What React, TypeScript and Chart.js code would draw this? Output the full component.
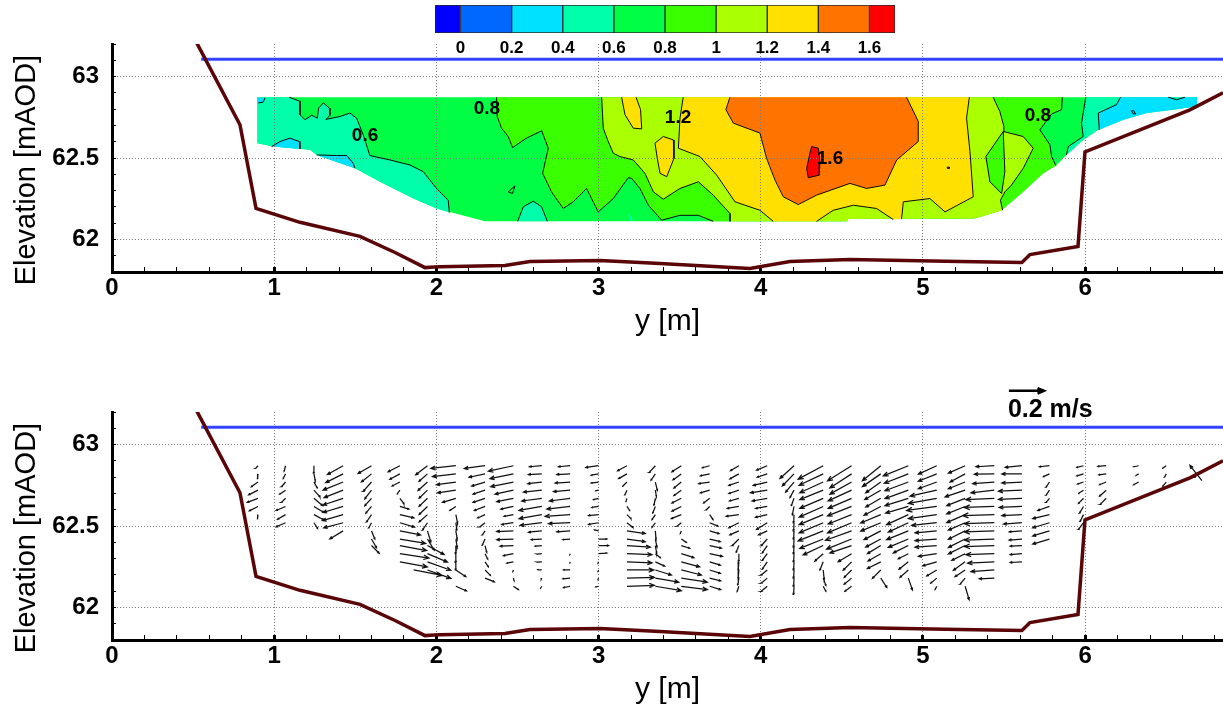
import React, { useEffect, useRef } from "react";
import { Chart, registerables } from "chart.js";

Chart.register(...registerables);

type P = { x: number; y: number };
const pts = (a: number[][]): P[] => a.map(([x, y]) => ({ x, y }));

// ---- axes
const xTicks = [0, 0.2, 0.4, 0.6, 0.8, 1, 1.2, 1.4, 1.6, 1.8, 2, 2.2, 2.4, 2.6, 2.8, 3, 3.2, 3.4, 3.6, 3.8, 4, 4.2, 4.4, 4.6, 4.8, 5, 5.2, 5.4, 5.6, 5.8, 6, 6.2, 6.4, 6.6, 6.8];
const xMajor = [0, 1, 2, 3, 4, 5, 6];
const yTicks = [61.8, 61.9, 62, 62.1, 62.2, 62.3, 62.4, 62.5, 62.6, 62.7, 62.8, 62.9, 63, 63.1, 63.2];
const yMajor = [62, 62.5, 63];

// ---- colour bar
const barLevels = [-0.1, 0, 0.2, 0.4, 0.6, 0.8, 1, 1.2, 1.4, 1.6, 1.7];
const barTicks = [0, 0.2, 0.4, 0.6, 0.8, 1, 1.2, 1.4, 1.6];
const barColors = ["#0000ff", "#0068ff", "#00e1ff", "#00ffaa", "#00ff44", "#39ff00", "#aaff00", "#ffe000", "#ff7300", "#ff0000"];

// ---- channel bed and water surface
const bed = pts([[0.524, 63.204], [0.789, 62.704], [0.888, 62.191], [1.159, 62.105], [1.529, 62.019], [1.745, 61.92], [1.93, 61.827], [2.022, 61.833], [2.423, 61.84], [2.577, 61.864], [3.009, 61.87], [3.379, 61.852], [3.933, 61.821], [4.18, 61.864], [4.55, 61.877], [5.228, 61.864], [5.61, 61.858], [5.66, 61.907], [5.956, 61.957], [5.999, 62.537], [6.646, 62.796], [6.85, 62.9]]);
const water = pts([[0.55, 63.107], [6.85, 63.107]]);

// ---- velocity magnitude contours (outer section = 0.6-0.8 band)
const section = pts([[0.896, 62.873], [0.896, 62.591], [0.995, 62.57], [1.221, 62.55], [1.262, 62.519], [1.498, 62.437], [1.652, 62.354], [1.858, 62.251], [2.001, 62.19], [2.299, 62.111], [4.529, 62.111], [4.54, 62.125], [5.31, 62.128], [5.351, 62.138], [5.485, 62.179], [5.618, 62.292], [5.741, 62.406], [5.824, 62.457], [5.885, 62.519], [5.988, 62.611], [6.081, 62.673], [6.235, 62.735], [6.379, 62.776], [6.584, 62.803], [6.687, 62.817], [6.691, 62.873]]);

const line06 = pts([[1.093, 62.873], [1.159, 62.848], [1.159, 62.766], [1.19, 62.735], [1.231, 62.762], [1.266, 62.745], [1.274, 62.807], [1.303, 62.838], [1.34, 62.807], [1.344, 62.762], [1.319, 62.737], [1.406, 62.755], [1.467, 62.776], [1.508, 62.745], [1.549, 62.642], [1.59, 62.515], [1.714, 62.488], [1.837, 62.457], [1.919, 62.416], [2.001, 62.313], [2.073, 62.241], [2.08, 62.165]]);
const close06 = pts([[2.001, 62.19], [1.858, 62.251], [1.652, 62.354], [1.498, 62.437], [1.262, 62.519], [1.221, 62.55], [0.995, 62.57], [0.896, 62.591], [0.896, 62.873]]);
const islandAqua = pts([[2.501, 62.111], [2.536, 62.2], [2.597, 62.235], [2.649, 62.2], [2.684, 62.111]]);
const dotAqua = pts([[3.183, 62.159], [3.195, 62.145], [3.214, 62.118], [3.19, 62.118]]);
const loopGreen = pts([[2.443, 62.292], [2.484, 62.329], [2.47, 62.282], [2.443, 62.292]]);
const cyanLeft = pts([[0.984, 62.57], [1.036, 62.601], [1.097, 62.622], [1.155, 62.601], [1.159, 62.556]]);
const cyanMid = pts([[1.262, 62.519], [1.385, 62.515], [1.447, 62.515], [1.488, 62.467], [1.498, 62.437]]);
const cyanCorner = pts([[0.943, 62.869], [0.933, 62.844], [0.902, 62.838]]);
const cyanCornerClose = pts([[0.896, 62.838], [0.896, 62.873]]);

const line08Left = pts([[2.371, 62.873], [2.375, 62.755], [2.402, 62.683], [2.443, 62.632], [2.47, 62.564], [2.556, 62.622], [2.649, 62.667], [2.69, 62.56], [2.655, 62.406], [2.71, 62.292], [2.782, 62.19], [2.844, 62.231], [2.926, 62.313], [2.998, 62.169], [3.091, 62.251], [3.183, 62.379], [3.204, 62.375], [3.255, 62.313], [3.307, 62.21], [3.389, 62.118], [3.502, 62.148], [3.615, 62.148], [3.707, 62.111]]);
const line08Right = pts([[5.82, 62.453], [5.793, 62.509], [5.783, 62.581], [5.721, 62.673], [5.793, 62.77], [5.855, 62.797], [5.859, 62.873]]);
const close08 = pts([[4.529, 62.111], [4.54, 62.125], [5.31, 62.128], [5.351, 62.138], [5.485, 62.179], [5.618, 62.292], [5.741, 62.406]]);

const line06Right = pts([[6.004, 62.873], [5.978, 62.714], [5.988, 62.632], [5.896, 62.57], [5.885, 62.519]]);
const closeTail = pts([[5.988, 62.611], [6.081, 62.673], [6.235, 62.735], [6.379, 62.776], [6.584, 62.803], [6.687, 62.817], [6.691, 62.873]]);
const line04Right = pts([[6.218, 62.873], [6.194, 62.828], [6.081, 62.776], [6.087, 62.673]]);
const closeCyanTail = pts([[6.235, 62.735], [6.379, 62.776], [6.584, 62.803], [6.687, 62.817], [6.691, 62.873]]);
const aquaTopRight = pts([[6.512, 62.873], [6.564, 62.858], [6.615, 62.873]]);
const dotDark = pts([[6.285, 62.79], [6.3, 62.79], [6.31, 62.77], [6.295, 62.772], [6.285, 62.79]]);

const line10Left = pts([[3.019, 62.873], [3.029, 62.683], [3.06, 62.6], [3.091, 62.529], [3.132, 62.509], [3.214, 62.488], [3.286, 62.406], [3.338, 62.292], [3.399, 62.247], [3.502, 62.313], [3.615, 62.354], [3.707, 62.272], [3.81, 62.159], [3.81, 62.111]]);
const close10 = pts([[4.529, 62.111], [4.54, 62.125], [5.31, 62.128], [5.351, 62.138], [5.491, 62.179]]);
const line10Right = pts([[5.491, 62.179], [5.478, 62.241], [5.505, 62.292], [5.546, 62.334], [5.618, 62.436], [5.68, 62.56], [5.618, 62.632], [5.495, 62.663], [5.499, 62.694], [5.474, 62.786], [5.433, 62.873]]);
const lensGreen = pts([[5.495, 62.663], [5.388, 62.509], [5.413, 62.354], [5.485, 62.282], [5.505, 62.415], [5.495, 62.663]]);

const line12Left = pts([[3.522, 62.873], [3.502, 62.745], [3.492, 62.56], [3.625, 62.509], [3.728, 62.395], [3.841, 62.231], [3.995, 62.179], [4.077, 62.111]]);
const island10 = pts([[4.344, 62.111], [4.447, 62.179], [4.571, 62.21], [4.714, 62.19], [4.817, 62.122]]);
const line12Right = pts([[4.868, 62.125], [4.879, 62.231], [5.043, 62.251], [5.136, 62.169], [5.31, 62.262], [5.29, 62.539], [5.269, 62.745], [5.286, 62.873]]);
const yellowTop = pts([[3.142, 62.873], [3.163, 62.766], [3.214, 62.683], [3.266, 62.679], [3.259, 62.797], [3.231, 62.873]]);
const yellowMid = pts([[3.348, 62.591], [3.399, 62.632], [3.461, 62.611], [3.465, 62.498], [3.42, 62.385], [3.379, 62.406], [3.362, 62.498], [3.348, 62.591]]);
const dotYellow = pts([[5.15, 62.444], [5.162, 62.444], [5.162, 62.436], [5.15, 62.436], [5.15, 62.444]]);

const line14 = pts([[3.81, 62.873], [3.785, 62.797], [3.831, 62.714], [3.995, 62.653], [4.036, 62.498], [4.088, 62.364], [4.139, 62.262], [4.231, 62.214], [4.344, 62.272], [4.55, 62.344], [4.653, 62.313], [4.766, 62.334], [4.838, 62.488], [4.971, 62.601], [4.971, 62.725], [4.899, 62.873]]);
const line16 = pts([[4.314, 62.57], [4.355, 62.56], [4.365, 62.478], [4.361, 62.395], [4.293, 62.379], [4.283, 62.436], [4.303, 62.529], [4.314, 62.57]]);

const labelTexts = ["0.6", "0.8", "1.2", "1.6", "0.8"];
const labelX = [1.56, 2.312, 3.49, 4.427, 5.709];
const labelY = [62.636, 62.802, 62.747, 62.494, 62.759];

// ---- velocity vectors, cm/s: columns of measured points
const rowElev = [62.87, 62.82, 62.77, 62.72, 62.67, 62.62, 62.57, 62.52, 62.47, 62.42, 62.38, 62.33, 62.28, 62.23, 62.18, 62.13];
const colX = [0.9, 1.07, 1.245, 1.425, 1.6, 1.775, 1.945, 2.12, 2.3, 2.475, 2.65, 2.825, 3.0, 3.175, 3.35, 3.51, 3.685, 3.865, 4.04, 4.205, 4.385, 4.56, 4.74, 4.91, 5.085, 5.26, 5.44, 5.61, 5.78, 5.99, 6.13, 6.33, 6.5];
const U: (number | null)[][] = [
  [-1.4, -0.2, -4, -5.6, -6.4, -5.2, -0.2],
  [-0.8, -1.4, -2.4, -3.6, -2.4, -5.6, -4.8, -5.6],
  [0, 0.8, 2, 3.6, 5.2, 6, 6, 2.2],
  [-9.4, -10.4, -12, -11.4, -12, -12, -12.4, -11.6, -8],
  [-8, -6, -5, -4, -4, -3.4, -3, -1.6, 2, 3, 4.6],
  [-7, -6, -4.6, -1.6, 2.4, 5.4, 8.4, 8.8, 12.4, 15.4, 16, 17.4, 16.4],
  [-7, -5, -5.6, -5, -5, -5, -5, -3, 2, 4, 10, 12, 14, 14],
  [-15, -14, -11.6, -11, -8, -3.6, 1, 0.6, 0.8, 0.8, 0, 0, 0, 6, null, 6.4],
  [-12.4, -9.6, -8, -7.2, -7.2, -6.4, -4.4, -3, -1.6, -1.6, 1, 1.6, 2, 3.2, 5.6],
  [-15, -14, -13.6, -11, -10, -7.6, -5.6, -7, -10, -10, -8, -6, -4, -0.4, 0.4, 3],
  [-7.4, -8, -8.4, -11, -12, -13.6, -13.6, -13, -8, -6.4, -4, -2.8, -2.8, -2.4, -0.4, -0.8],
  [-7, -8, -9, -10, -12.4, -14, -15, -13, -8, -4.4, null, -0.2, -0.2, -4, -4.4, -4],
  [-7.6, -4.4, -4.4, -2, -3, -4, -6, -6, -2.4, 5, 6, 5, -0.4, -0.4, -0.4, -1.6],
  [-5.6, -5, -2.4, -1.2, -0.6, 1.6, 2.4, 3.6, 11, 11, 14, 15, 15, 16, 16.4, 16.4],
  [-3.6, -2.6, 1.2, 0.6, -0.8, -1.6, -2, -2, 0.4, 1, 0.8, 3, 5.6, 9.6, 14, 15.6],
  [-5.6, -5, -4.4, -4.4, -5.6, -5.6, -6, -2.4, -0.6, 3, 5, 7.6, 11, 12, 15.6, 15.6],
  [-4.4, -5.6, -6.6, -5.6, -3.6, -2, 2, 5, 5.6, 6.4, 7, 7.6, 6.4, 6.4, 6.6, 6.6],
  [-5, -5.4, -6, -6, -5.6, -7, -7.6, -6, -5.4, -4, -1.6, 0, -0.4, -0.4, -0.6, -1],
  [-6.4, -6, -8.4, -10, -9, -7, -7, -6.4, -5.2, -3.6, -3, -3, -3, -3.6, -3.6, -3.6],
  [-8.4, -7, -5, -2.4, -1.6, -1, -0.2, -0.2, -0.2, -0.2, -0.2, -0.2, -0.2, -0.2, -0.2, -0.2],
  [-15, -14.4, -14, -14, -14, -14.4, -14.4, -14.4, -15, -14, -12, -5, -2, 0.6, 1.6, 1.6],
  [-14.4, -13, -13, -14, -14, -14.4, -14, -14.4, -15.6, -15, -13, -8, -5, -4.4, -4.4, -4],
  [-11, -11, -9, -9.6, -9, -10, -12, -12, -10, -9, -8, -7.6, -8, -5, 3.6],
  [-15, -14.4, -14, -14, -14, -13.6, -13, -12, -13, -12, -9, -6, -5.6, -5, 2.4],
  [-11, -11, -11, -16, -17, -18, -17, -15, -13, -13, -13, -11, -8.4, -6, -3.6, -1],
  [-10, -9, -10, -12, -11, -11, -11, -10, -10, -10, -10, -8, -7, -6, -3, 2.4],
  [-11, -12, -13, -14, -17, -18, -19, -18, -18, -18, -18, -17, -16, -14, -9],
  [-10, -12, -12, -14, -14, -13.6, -12, -11, -7.6, -7.6, -7, -7, -7],
  [-6, -3.6, -2, -2, -2, -7, -10, -10, -10, -10],
  [-4, -4, -3.6, -3.2, -3, -2.4, -2, -3],
  [-5, -4.4, -4, -4, -3.6],
  [-3, -1.6, -3],
  [-2.4, -1, -2],
];
const V: (number | null)[][] = [
  [-1.6, -2.8, -2.8, -2.8, -2.4, -2.6, -2.2],
  [-3.2, -2.8, -2.8, -2.4, -2.4, -2.4, -2.8, -2.4],
  [-4.4, -4, -3.6, -4, -4.4, -3.6, -3.2, -3.4],
  [-5.2, -5.2, -4.8, -4.4, -4, -3.6, -3.6, -3, -4.8],
  [-4.6, -4.8, -5.6, -5.2, -4.4, -4, -4.4, -3, -4.8, -5.2, -4.6],
  [-3.6, -3.2, -2.4, -2.2, -3.2, -1.6, -2, -2.6, -2.4, -2.6, -3, -2.6, -3],
  [-5.4, -4.4, -5, -4.8, -4.8, -4.8, -4.4, -4.4, -6.6, -6.6, -5.4, -5, -5, -5],
  [-1.6, -1.6, -1.6, -1.6, -2.4, -2.4, -5, -4.4, -4.8, -4.8, -4.8, -5.2, -4.8, -4, null, -2.8],
  [-1.6, -2, -2.4, -2.4, -2.4, -2.4, -2, -2.4, -2.4, -3.6, -4, -3.2, -3, -3.2, -2.2],
  [-3.2, -2.8, -2.8, -2.4, -2, -1.6, -1, -1, -0.4, -0.4, -0.4, -1.2, -0.8, -1.2, -1.6, -2],
  [-0.6, -0.4, -1, -1.2, -1.6, -2.4, -2.4, -1.6, -0.8, -0.4, -0.4, -0.2, -0.2, 0.2, -0.8, -1.2],
  [-0.6, -0.4, -0.6, -0.8, -1.6, -1.6, -1, -0.6, -0.6, -0.4, null, -0.6, -0.8, 0, -0.4, -0.8],
  [-1, -0.8, -0.6, -0.4, -0.8, -0.6, -0.6, -1, 0.6, 0, 0, 0.4, -1, -1, -1, -0.4],
  [-3, -2.8, -2.4, -2.8, -2, -2.4, -2.4, -2.8, -1.6, -1.6, -1, -0.6, -0.6, 0, 0.4, 0.6],
  [-4, -3.8, -5, -3.6, -4, -4, -3, -2.8, -4.8, -4.8, -4.4, -2.4, -2.6, -3, -2.4, -2.6],
  [-3.6, -3.6, -3.6, -3.2, -2.8, -2.8, -2.4, -2, -1.6, -2, -1.6, -2.4, -3, -3, -2.4, -2],
  [-1.2, -1.2, -1, -1.6, -2.8, -2, -3, -2, -1.6, -1.6, -1.6, -1.6, -2, -2, -1.6, -2],
  [-3, -3, -2, -2, -1.6, -1.2, -1, -3, -2.4, -4, -4, -4.4, -5, -5, -4, -3],
  [-2.6, -2, -2, -1.6, -1.6, -1.2, -1.6, -4, -2.4, -4, -4.4, -4, -4.4, -3, -3, -3],
  [-7.6, -7.2, -6, -4.4, -4.4, -5, -4.8, -4.8, -4.8, -4.8, -4.8, -4.8, -4.8, -4.8, -4.8, -4.8],
  [-8, -6.8, -6.4, -5.6, -6, -6.4, -6, -6, -6, -5.6, -5.6, -4.4, -5, -5.6, -4.4, -3],
  [-9, -8.4, -7.2, -6.4, -6, -5.6, -5.6, -6, -5.6, -6, -4.4, -4.8, -5, -4.4, -3.6, -3],
  [-9, -7.6, -6.4, -5.6, -5.2, -5.2, -5, -5, -5.2, -4.8, -4.8, -4.4, -4, -5, -5.6],
  [-6, -5.6, -5.2, -5, -4.4, -4, -6, -5.6, -5.2, -5, -4.4, -3, -4.4, -4.4, -7],
  [-5, -4.4, -4, -3.6, -3, -2.4, -2.4, -1.6, -1.2, -1, -1, -1.6, -2.4, -3.6, -3, -2],
  [-4.4, -4.8, -4, -4, -4.4, -4.4, -4.8, -4.4, -5, -5, -5, -4, -5, -4, -3.6, -8],
  [-0.6, -0.2, -1, -1.6, -0.8, -0.6, -0.6, -0.6, -0.6, -0.6, -0.6, -0.6, -0.8, -1, -0.4],
  [-1, 0, -0.6, -0.6, -0.6, -0.6, -0.6, -0.8, -0.6, -0.6, -0.4, -0.6, -0.4],
  [-0.6, -1.6, -3, -3, -2.4, -2.4, -2.4, -3, -3, -3],
  [-1, -1.2, -1.2, -2, -3, -4, -4, -4],
  [-0.4, -0.6, -1.6, -3.6, -3.6],
  [-0.6, -1, -1.6],
  [-1.6, -2, -2.4],
];
const extraX = [1.86, 6.75, 6.72];
const extraY = [62.23, 62.846, 62.778];
const extraU = [17, -8.4, -7.2];
const extraV = [-3.2, -4.6, 9.2];

// reference arrow: 20 cm/s
const refArrowX = [5.53];
const refArrowY = [63.33];
const refArrowU = [21];
const refArrowV = [0];
const refText = "0.2 m/s";
const refTextX = 5.785;
const refTextY = 63.213;

const M_PER_CMS = 0.0103;
const GAP: P = { x: NaN, y: NaN };

function arrow(out: P[], x: number, y: number, u: number, v: number, head: number) {
  const dx = u * M_PER_CMS;
  const dy = v * M_PER_CMS;
  const tip = { x: x + dx, y: y + dy };
  out.push({ x, y }, tip, GAP);
  const len = Math.hypot(dx, dy);
  if (len === 0) return;
  const ang = Math.atan2(dy, dx);
  const h = len * head;
  const a1 = ang + Math.PI - 0.4;
  const a2 = ang + Math.PI + 0.4;
  out.push({ x: tip.x + h * Math.cos(a1), y: tip.y + h * Math.sin(a1) }, tip, { x: tip.x + h * Math.cos(a2), y: tip.y + h * Math.sin(a2) }, GAP);
}

function buildVectors(): P[] {
  const out: P[] = [];
  colX.forEach((x, c) => {
    U[c].forEach((u, r) => {
      const v = V[c][r];
      if (u === null || v === null) return;
      arrow(out, x, rowElev[r], u, v, 0.2);
    });
  });
  extraX.forEach((x, i) => arrow(out, x, extraY[i], extraU[i], extraV[i], 0.2));
  return out;
}

const FONT = "'Liberation Sans', Arial, sans-serif";
const fillDs = (data: P[], color: string) => ({ data, showLine: true, fill: "shape", backgroundColor: color, borderWidth: 0, borderColor: "transparent", pointRadius: 0, tension: 0 });
const lineDs = (data: P[], color: string, width: number, extra: object = {}) => ({ data, showLine: true, fill: false, borderColor: color, borderWidth: width, pointRadius: 0, tension: 0, spanGaps: false, ...extra });

const C = { cyan: barColors[2], aqua: barColors[3], g: barColors[4], lime: barColors[5], yg: barColors[6], y: barColors[7], o: barColors[8], r: barColors[9] };

function contourDatasets() {
  const fills = [
    fillDs(section, C.g),
    fillDs([...line06, ...close06], C.aqua),
    fillDs(islandAqua, C.aqua),
    fillDs(dotAqua, C.aqua),
    fillDs(cyanLeft, C.cyan),
    fillDs(cyanMid, C.cyan),
    fillDs([{ x: 0.896, y: 62.873 }, ...cyanCorner, ...cyanCornerClose], C.cyan),
    fillDs([...line08Left, ...close08, ...line08Right], C.lime),
    fillDs([...line06Right, ...closeTail], C.aqua),
    fillDs([...line04Right, ...closeCyanTail], C.cyan),
    fillDs(aquaTopRight, C.aqua),
    fillDs([...line10Left, ...close10, ...line10Right], C.yg),
    fillDs(lensGreen, C.lime),
    fillDs([...line12Left, ...island10, ...line12Right], C.y),
    fillDs(yellowTop, C.y),
    fillDs(yellowMid, C.y),
    fillDs(line14, C.o),
    fillDs(line16, C.r),
  ];
  const lines = [line06, islandAqua, loopGreen, cyanLeft, cyanMid, cyanCorner, line08Left, line08Right, line06Right, line04Right, aquaTopRight, dotDark, line10Left, line10Right, lensGreen, line12Left, island10, line12Right, yellowTop, yellowMid, dotYellow, line14, line16].map((d) => lineDs(d, "#0a0a0a", 1));
  return [...lines, ...fills.reverse()];
}

function axes(xHeight: number) {
  const isIn = (list: number[], v: number) => list.some((m) => Math.abs(m - v) < 1e-6);
  const dotted = "#7d7d7d";
  return {
    x: {
      type: "linear",
      min: 0,
      max: 6.85,
      afterFit: (s: any) => { s.height = xHeight; },
      afterBuildTicks: (s: any) => { s.ticks = xTicks.map((value) => ({ value })); },
      border: { display: true, color: "#000", width: 3, dash: [1, 2] },
      grid: {
        drawTicks: true,
        tickLength: -5,
        color: (c: any) => (c.tick && isIn(xMajor, c.tick.value) ? dotted : "transparent"),
        tickColor: "#000",
        tickWidth: (c: any) => (c.tick && isIn(xMajor, c.tick.value) ? 3 : 1),
      },
      ticks: {
        autoSkip: false,
        maxRotation: 0,
        minRotation: 0,
        padding: 7,
        color: "#000",
        font: { family: FONT, size: 24, weight: "bold" },
        callback: (v: number) => (isIn(xMajor, v) ? String(Math.round(v)) : ""),
      },
      title: { display: true, text: "y [m]", color: "#000", font: { family: FONT, size: 30 }, padding: { top: 1, bottom: 0 } },
    },
    y: {
      type: "linear",
      min: 61.8,
      max: 63.2,
      afterFit: (s: any) => { s.width = 112; },
      afterBuildTicks: (s: any) => { s.ticks = yTicks.map((value) => ({ value })); },
      border: { display: true, color: "#000", width: 3, dash: [1, 2] },
      grid: {
        drawTicks: true,
        tickLength: -4,
        color: (c: any) => (c.tick && isIn(yMajor, c.tick.value) ? dotted : "transparent"),
        tickColor: "#000",
        tickWidth: 1,
      },
      ticks: {
        autoSkip: false,
        padding: 17,
        color: "#000",
        font: { family: FONT, size: 24, weight: "bold" },
        callback: (v: number) => (isIn(yMajor, v) ? String(v) : ""),
      },
      title: { display: true, text: "Elevation [mAOD]   ", color: "#000", font: { family: FONT, size: 29 }, padding: { top: 10, bottom: 0 } },
    },
  };
}

const textPlugin = (texts: string[], xs: number[], ys: number[], size: number) => ({
  id: "pointTexts",
  afterDatasetsDraw(chart: any) {
    const { ctx, scales } = chart;
    ctx.save();
    ctx.fillStyle = "#000";
    ctx.font = `bold ${size}px ${FONT}`;
    ctx.textAlign = "center";
    ctx.textBaseline = "middle";
    texts.forEach((t, i) => ctx.fillText(t, scales.x.getPixelForValue(xs[i]), scales.y.getPixelForValue(ys[i])));
    ctx.restore();
  },
});

function panelConfig(datasets: any[], plugin: any) {
  return {
    type: "scatter",
    data: { datasets },
    plugins: [plugin],
    options: {
      responsive: false,
      devicePixelRatio: 1,
      animation: false,
      events: [],
      layout: { padding: { top: 44, left: 0, right: 0, bottom: 0 } },
      plugins: { legend: { display: false }, tooltip: { enabled: false }, title: { display: false }, filler: { drawTime: "beforeDraw" } },
      scales: axes(68),
    },
  } as any;
}

export default function App() {
  const topRef = useRef<HTMLCanvasElement>(null);
  const lowRef = useRef<HTMLCanvasElement>(null);
  const barRef = useRef<HTMLCanvasElement>(null);

  useEffect(() => {
    const base = () => [lineDs(bed, "#5a0508", 3.5), lineDs(water, "#3344ff", 3)];
    const top = new Chart(topRef.current!, panelConfig([...base(), ...contourDatasets()], textPlugin(labelTexts, labelX, labelY, 19)));

    const refPts: P[] = [];
    arrow(refPts, refArrowX[0], refArrowY[0], refArrowU[0], refArrowV[0], 0.2);
    const low = new Chart(
      lowRef.current!,
      panelConfig(
        [...base(), lineDs(refPts, "#000", 2.5, { clip: false }), lineDs(buildVectors(), "#111", 1.25)],
        textPlugin([refText], [refTextX], [refTextY], 25)
      )
    );

    const bar = new Chart(barRef.current!, {
      type: "bar",
      data: {
        labels: [""],
        datasets: barColors.map((c, i) => ({
          data: [[barLevels[i], barLevels[i + 1]]],
          backgroundColor: c,
          borderColor: "#2a2a2a",
          borderWidth: 1,
          borderSkipped: false,
          grouped: false,
          barPercentage: 1,
          categoryPercentage: 1,
        })),
      },
      options: {
        indexAxis: "y",
        responsive: false,
        devicePixelRatio: 1,
        animation: false,
        events: [],
        layout: { padding: { top: 5, left: 435, right: 328, bottom: 0 } },
        plugins: { legend: { display: false }, tooltip: { enabled: false } },
        scales: {
          y: { display: false },
          x: {
            type: "linear",
            min: -0.1,
            max: 1.7,
            afterFit: (s: any) => { s.height = 27; },
            afterBuildTicks: (s: any) => { s.ticks = barTicks.map((value) => ({ value })); },
            border: { display: false },
            grid: { display: false, drawTicks: false },
            ticks: { autoSkip: false, maxRotation: 0, padding: 5, color: "#000", font: { family: FONT, size: 17, weight: "bold" }, callback: (v: number) => String(v) },
          },
        },
      },
    } as any);

    return () => {
      top.destroy();
      low.destroy();
      bar.destroy();
    };
  }, []);

  const abs = (t: number): React.CSSProperties => ({ position: "absolute", left: 0, top: t, display: "block" });
  return (
    <div style={{ position: "fixed", left: 0, top: 0, width: 1223, height: 708, background: "#fff", overflow: "hidden" }}>
      <canvas ref={topRef} width={1223} height={340} style={abs(0)} />
      <canvas ref={lowRef} width={1223} height={340} style={abs(368)} />
      <canvas ref={barRef} width={1223} height={60} style={abs(0)} />
    </div>
  );
}
